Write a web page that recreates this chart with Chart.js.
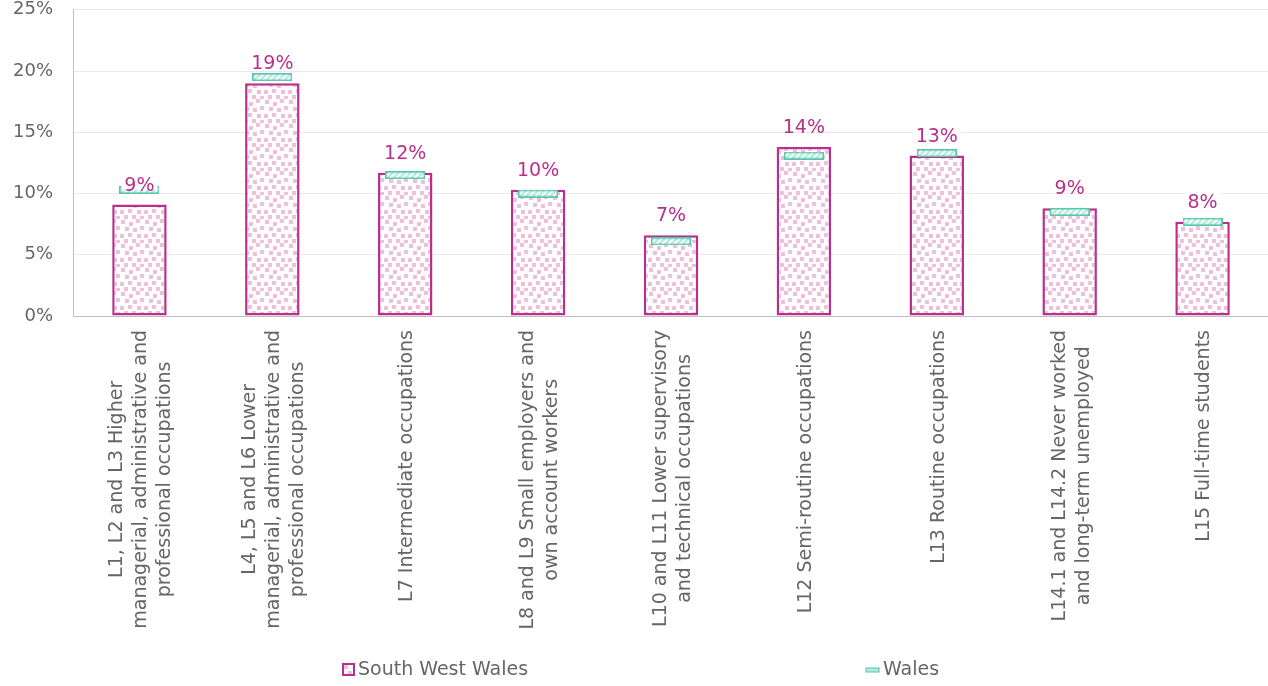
<!DOCTYPE html>
<html>
<head>
<meta charset="utf-8">
<script src="https://cdn.jsdelivr.net/npm/chart.js@4.4.0/dist/chart.umd.min.js"></script>
<style>
body { margin: 0; background: #fff; overflow: hidden; }
#wrap { width: 1268px; height: 686px; overflow: hidden; }
#myChart { display: block; margin-top: -21px; }
</style>
</head>
<body>
<div id="wrap"><canvas id="myChart" width="1274" height="707"></canvas></div>
<script>
// datos
var categorias = [
    ['L1, L2 and L3 Higher', 'managerial, administrative and', 'professional occupations'],
    ['L4, L5 and L6 Lower', 'managerial, administrative and', 'professional occupations'],
    ['L7 Intermediate occupations'],
    ['L8 and L9 Small employers and', 'own account workers'],
    ['L10 and L11 Lower supervisory', 'and technical occupations'],
    ['L12 Semi-routine occupations'],
    ['L13 Routine occupations'],
    ['L14.1 and L14.2 Never worked', 'and long-term unemployed'],
    ['L15 Full-time students']
];
var southWestWales = [9.1, 19.0, 11.7, 10.3, 6.6, 13.8, 13.1, 8.8, 7.7];
var wales = [10.3, 19.5, 11.5, 10.0, 6.1, 13.1, 13.3, 8.5, 7.7];
var nombresSeries = ['South West Wales', 'Wales'];
var yMin = 0, yMax = 25, yPaso = 5;

var rosa = '#b8308b';
var gris = '#666666';
var fuente = '"DejaVu Sans"';

// relleno de puntitos rosas (cuadraditos salteados)
function patronPuntos() {
    var c = document.createElement('canvas');
    c.width = 24; c.height = 24;
    var g = c.getContext('2d');
    g.fillStyle = '#fff';
    g.fillRect(0, 0, 24, 24);
    g.fillStyle = '#efc0dc';
    var pts = [[1, 1], [9, 3], [16, 0], [5, 8], [13, 9], [20, 7],
               [0, 15], [8, 14], [17, 15], [4, 20], [12, 20], [20, 21]];
    pts.forEach(function(p) { g.fillRect(p[0], p[1], 4, 4); });
    return g.createPattern(c, 'repeat');
}

// marcador de Wales (rayas diagonales)
function marcadorWales(w, h) {
    var c = document.createElement('canvas');
    c.width = w; c.height = h;
    var g = c.getContext('2d');
    g.fillStyle = '#b3eadc';
    g.fillRect(0, 0, w, h);
    g.strokeStyle = '#ffffff';
    g.lineWidth = 2;
    for (var i = -h; i < w + h; i += 6) {
        g.beginPath();
        g.moveTo(i, h);
        g.lineTo(i + h, 0);
        g.stroke();
    }
    g.strokeStyle = '#55c6ab';
    g.lineWidth = 1.5;
    g.strokeRect(0.75, 0.75, w - 1.5, h - 1.5);
    return c;
}

var relleno = patronPuntos();
var marcador = marcadorWales(40, 8);

var ctx = document.getElementById('myChart').getContext('2d');

var pluginTextos = {
    id: 'textos',
    afterDatasetsDraw: function(chart) {
        var c = chart.ctx;
        var meta = chart.getDatasetMeta(0);
        c.save();
        c.font = '19px ' + fuente;
        c.textAlign = 'center';
        c.textBaseline = 'alphabetic';
        meta.data.forEach(function(bar, i) {
            var txt = Math.round(southWestWales[i]) + '%';
            var w = c.measureText(txt).width;
            var y = bar.y - 14;
            c.fillStyle = '#fff';
            c.fillRect(bar.x - w / 2 - 3, y - 15, w + 6, 14);
            c.fillStyle = rosa;
            c.fillText(txt, bar.x, y);
        });
        c.restore();
    },
    afterDraw: function(chart) {
        var c = chart.ctx;
        var xs = chart.scales.x;
        var top = chart.chartArea.bottom + 14;
        c.save();
        c.font = '19px ' + fuente;
        c.fillStyle = gris;
        c.textAlign = 'center';
        c.textBaseline = 'middle';
        categorias.forEach(function(lineas, i) {
            var x = xs.getPixelForValue(i);
            var maxW = 0;
            lineas.forEach(function(l) { maxW = Math.max(maxW, c.measureText(l).width); });
            c.save();
            c.translate(x + 2, top);
            c.rotate(-Math.PI / 2);
            lineas.forEach(function(l, j) {
                c.fillText(l, -maxW / 2, (j - (lineas.length - 1) / 2) * 24);
            });
            c.restore();
        });

        // leyenda
        var ly = chart.height - 16;
        c.textAlign = 'left';
        c.fillStyle = relleno;
        c.fillRect(343, ly - 6, 11, 11);
        c.strokeStyle = rosa;
        c.lineWidth = 2;
        c.strokeRect(343, ly - 6, 11, 11);
        c.fillStyle = gris;
        c.fillText(nombresSeries[0], 358, ly);
        c.fillStyle = '#b3eadc';
        c.fillRect(866, ly - 2, 13, 4);
        c.strokeStyle = '#55c6ab';
        c.lineWidth = 1;
        c.strokeRect(866, ly - 2, 13, 4);
        c.fillStyle = gris;
        c.fillText(nombresSeries[1], 883, ly);
        c.restore();
    }
};

var graphData = {
    type: 'bar',
    data: {
        labels: categorias,
        datasets: [{
            label: nombresSeries[0],
            data: southWestWales,
            backgroundColor: relleno,
            borderColor: rosa,
            borderWidth: 2.5,
            borderSkipped: false,
            categoryPercentage: 0.82,
            barPercentage: 0.5,
            order: 1
        }, {
            type: 'line',
            label: nombresSeries[1],
            data: wales,
            showLine: false,
            pointStyle: marcador,
            order: 0
        }]
    },
    options: {
        responsive: false,
        animation: false,
        layout: { padding: { top: 11, left: 0, right: 0, bottom: 0 } },
        plugins: {
            legend: { display: false },
            tooltip: { enabled: false }
        },
        scales: {
            x: {
                grid: { display: false },
                border: { color: '#bfbfbf', width: 1 },
                ticks: { display: false },
                afterFit: function(s) { s.height = 370; }
            },
            y: {
                min: yMin,
                max: yMax,
                grid: { color: '#e9e9e9', drawTicks: false },
                border: { color: '#bfbfbf', width: 1 },
                ticks: {
                    stepSize: yPaso,
                    padding: 20,
                    color: gris,
                    font: { family: 'DejaVu Sans', size: 18 },
                    callback: function(v) { return v + '%'; }
                },
                afterFit: function(s) { s.width = 73; }
            }
        }
    },
    plugins: [pluginTextos]
};

var myChart = new Chart(ctx, graphData);
</script>
</body>
</html>
